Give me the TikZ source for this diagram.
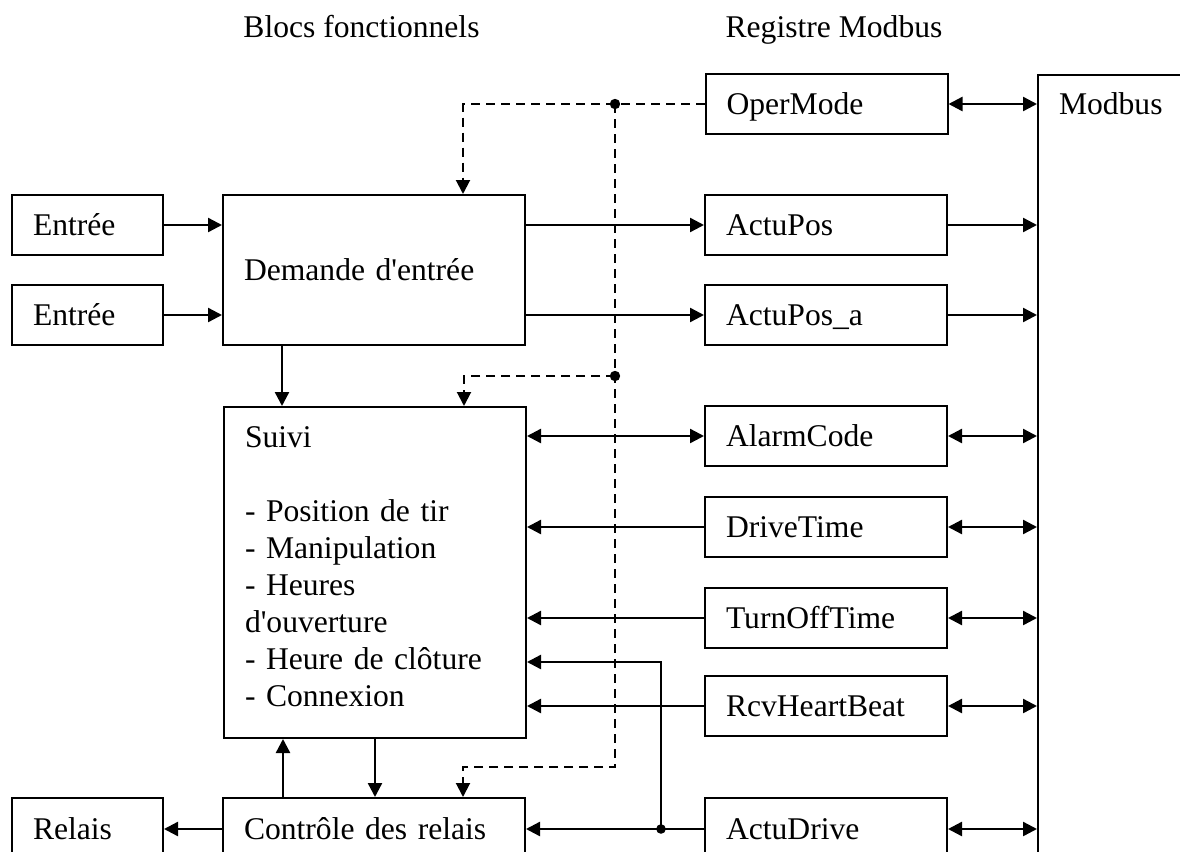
\documentclass[tikz,border=0pt]{standalone}
\usepackage{fontspec}
\setmainfont{Liberation Serif}
\usetikzlibrary{calc, positioning, arrows.meta}

\begin{document}
\begin{tikzpicture}[x=0.5pt, y=-0.5pt,
  >={Triangle[length=7pt,width=7pt]},
  every node/.style={font=\fontsize{15.8pt}{18.5pt}\selectfont},
  box/.style={draw, line width=1pt, align=left, inner xsep=10.5pt, inner ysep=0pt,
    text height=12pt, text depth=1.4pt},
  small/.style={box, text width=54.5pt, minimum height=30pt},
  big/.style={box, text width=130pt},
  reg/.style={box, text width=100pt, minimum height=30pt},
  head/.style={text height=12pt, text depth=1.4pt},
  link/.style={line width=1.2pt},
  ctl/.style={line width=1pt, dash pattern=on 4.5pt off 3pt}]
  \useasboundingbox (0,0) rectangle (1180,852);
  \clip (0,0) rectangle (1180,852);

  % Headings
  \node[head] (hblk) at (361.5,27) {Blocs fonctionnels};
  \node[head] (hreg) at (834,27) {Registre Modbus};

  % Functional blocks
  \node[small] (in1) at (87.5,225) {Entrée};
  \node[small] (in2) at (87.5,315) {Entrée};
  \node[big, minimum height=75pt] (dem) at (374,270) {Demande d\textquotesingle entrée};
  \node[big, anchor=north west, inner ysep=9pt, text height=11pt, text depth=136.5pt]
    (suivi) at (223,406) {Suivi\\[18.5pt]- Position de tir\\- Manipulation\\- Heures\\
    d\textquotesingle ouverture\\- Heure de clôture\\- Connexion};
  \node[big, minimum height=31pt] (ctrl) at (374,829) {Contrôle des relais};
  \node[small, minimum height=31pt] (relais) at (87.5,829) {Relais};

  % Modbus registers
  \node[reg] (oper) at (826.5,104) {OperMode};
  \node[reg] (actu) at (826,225) {ActuPos};
  \node[reg] (actua) at (826,315) {ActuPos\_a};
  \node[reg] (alarm) at (826,436) {AlarmCode};
  \node[reg] (drive) at (826,527) {DriveTime};
  \node[reg] (turnoff) at (826,618) {TurnOffTime};
  \node[reg] (rcv) at (826,706) {RcvHeartBeat};
  \node[reg, minimum height=31pt] (actud) at (826,829) {ActuDrive};
  \node[box, anchor=north west, text width=100pt, inner ysep=8.5pt, text height=11pt,
    text depth=420pt] (mb) at (1037,74) {Modbus};

  % Control (dashed) lines
  \coordinate (tap1) at (oper.west -| 615,0);
  \coordinate (tap2) at (615,376);
  \coordinate (tend) at (615,767);
  \draw[ctl, ->] (oper.west) -| ([xshift=120.5pt]dem.north west);
  \draw[ctl, ->] (tap1) -- (tend) -| ([xshift=120.5pt]ctrl.north west);
  \draw[ctl, ->] (tap2) -| ([xshift=120.5pt]suivi.north west);
  \fill (tap1) circle (2.6pt);
  \fill (tap2) circle (2.6pt);

  % Inputs and outputs
  \draw[link, ->] (in1) -- (in1 -| dem.west);
  \draw[link, ->] (in2) -- (in2 -| dem.west);
  \draw[link, ->] (dem.east |- actu) -- (actu);
  \draw[link, ->] (dem.east |- actua) -- (actua);
  \draw[link, ->] ([xshift=30pt]dem.south west) -- ([xshift=30pt]dem.south west |- suivi.north);
  \draw[link, ->] ([xshift=30.5pt]ctrl.north west) -- ([xshift=30.5pt]ctrl.north west |- suivi.south);
  \draw[link, ->] (suivi.south) -- (suivi.south |- ctrl.north);
  \draw[link, <->] (suivi.east |- alarm) -- (alarm);
  \foreach \r in {drive, turnoff, rcv}
    \draw[link, ->] (\r) -- (\r -| suivi.east);
  \draw[link, ->] (actud) -- (actud -| ctrl.east);
  \draw[link, ->] (ctrl) -- (relais);

  % Feedback of ActuDrive
  \coordinate (jn) at (actud -| 661,0);
  \coordinate (fb) at (661,662);
  \draw[link, ->] (jn) |- (suivi.east |- fb);
  \fill (jn) circle (2.4pt);

  % Registers to Modbus
  \draw[link, <->] (oper) -- (oper -| mb.west);
  \draw[link, ->] (actu) -- (actu -| mb.west);
  \draw[link, ->] (actua) -- (actua -| mb.west);
  \foreach \r in {alarm, drive, turnoff, rcv, actud}
    \draw[link, <->] (\r) -- (\r -| mb.west);
\end{tikzpicture}
\end{document}
